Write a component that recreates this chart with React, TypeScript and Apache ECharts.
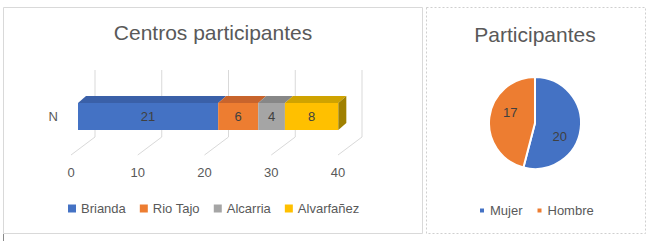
import React, { useEffect, useRef } from "react";
import * as echarts from "echarts";

const categories = ["N"];
const centros = ["Brianda", "Rio Tajo", "Alcarria", "Alvarfañez"];
const centrosValues = [21, 6, 4, 8];
const xTicks = [0, 10, 20, 30, 40];
const sexos = ["Mujer", "Hombre"];
const sexosValues = [20, 17];

const FONT = "'Liberation Sans', Arial, sans-serif";
const TEXT = "#595959";
const LABEL = "#404040";
const frontColors = ["#4472C4", "#ED7D31", "#A5A5A5", "#FFC000"];
const topColors = ["#3A60A8", "#C8642C", "#878787", "#CFA300"];
const sideColors = ["#2F5597", "#A9561F", "#767676", "#A08000"];
const pieColors = ["#4472C4", "#ED7D31"];

// 3D look (pixels)
const DEPTH_X = 8;
const DEPTH_Y = 7;
const HALF_H = 13.5;

export default function App() {
  const ref = useRef<HTMLDivElement>(null);

  useEffect(() => {
    if (!ref.current) return;
    const chart = echarts.init(ref.current, null, { renderer: "svg" });

    let acc = 0;
    const barSeries = centros.map((name, i) => {
      const start = acc;
      acc += centrosValues[i];
      const isLast = i === centros.length - 1;
      return {
        type: "custom",
        name,
        xAxisIndex: 0,
        yAxisIndex: 0,
        z: 3 + i,
        itemStyle: { color: frontColors[i] },
        encode: { x: [0, 1], y: 2 },
        data: [[start, start + centrosValues[i], categories[0], centrosValues[i]]],
        renderItem: (params: any, api: any) => {
          const a = api.coord([api.value(0), 0]);
          const b = api.coord([api.value(1), 0]);
          const x0 = a[0];
          const x1 = b[0];
          const cy = a[1];
          const yT = cy - HALF_H;
          const yB = cy + HALF_H;
          const children: any[] = [
            {
              type: "polygon",
              shape: {
                points: [
                  [x0, yT],
                  [x1, yT],
                  [x1 + DEPTH_X, yT - DEPTH_Y],
                  [x0 + DEPTH_X, yT - DEPTH_Y],
                ],
              },
              style: { fill: topColors[i] },
            },
            {
              type: "rect",
              shape: { x: x0, y: yT, width: x1 - x0, height: yB - yT },
              style: { fill: frontColors[i] },
            },
          ];
          if (isLast) {
            children.push({
              type: "polygon",
              shape: {
                points: [
                  [x1, yT],
                  [x1 + DEPTH_X, yT - DEPTH_Y],
                  [x1 + DEPTH_X, yB - DEPTH_Y],
                  [x1, yB],
                ],
              },
              style: { fill: sideColors[i] },
            });
          }
          children.push({
            type: "text",
            x: (x0 + x1) / 2,
            y: cy,
            style: {
              text: String(api.value(3)),
              align: "center",
              verticalAlign: "middle",
              fontSize: 13,
              fontFamily: FONT,
              fill: LABEL,
            },
          });
          return { type: "group", children };
        },
      };
    });

    const gridSeries = {
      type: "custom",
      name: "grid",
      xAxisIndex: 0,
      yAxisIndex: 0,
      z: 1,
      silent: true,
      encode: { x: 0, y: 1 },
      data: xTicks.map((t) => [t, categories[0]]),
      renderItem: (params: any, api: any) => {
        const p = api.coord([api.value(0), 0]);
        const bx = p[0] + 17;
        const cy = p[1];
        const style = { stroke: "#D9D9D9", lineWidth: 1, fill: "none" };
        return {
          type: "group",
          children: [
            { type: "line", shape: { x1: bx, y1: cy - 46.5, x2: bx, y2: cy + 20.5 }, style },
            { type: "line", shape: { x1: bx, y1: cy + 20.5, x2: p[0] - 7, y2: cy + 38.5 }, style },
          ],
        };
      },
    };

    const option: any = {
      animation: false,
      backgroundColor: "#ffffff",
      textStyle: { fontFamily: FONT },
      title: [
        {
          text: "Centros participantes",
          left: 213,
          top: 22,
          padding: 0,
          textAlign: "center",
          textVerticalAlign: "top",
          textStyle: { fontSize: 21, fontWeight: "normal", color: TEXT, fontFamily: FONT },
        },
        {
          text: "Participantes",
          left: 535,
          top: 24,
          padding: 0,
          textAlign: "center",
          textVerticalAlign: "top",
          textStyle: { fontSize: 21, fontWeight: "normal", color: TEXT, fontFamily: FONT },
        },
      ],
      legend: [
        {
          data: centros,
          left: 68,
          top: 202,
          padding: 0,
          icon: "rect",
          itemWidth: 8,
          itemHeight: 8,
          itemGap: 14,
          textStyle: { fontSize: 13, color: TEXT, fontFamily: FONT },
          selectedMode: false,
        },
        {
          data: sexos,
          left: 478,
          top: 204,
          padding: 0,
          icon: "rect",
          itemWidth: 6,
          itemHeight: 6,
          itemGap: 13,
          textStyle: { fontSize: 13, color: TEXT, fontFamily: FONT },
          selectedMode: false,
        },
      ],
      grid: [{ left: 78, width: 267, top: 97, height: 39, containLabel: false }],
      xAxis: [
        {
          type: "value",
          gridIndex: 0,
          min: 0,
          max: 40,
          interval: 10,
          axisLine: { show: false },
          axisTick: { show: false },
          splitLine: { show: false },
          axisLabel: {
            margin: 30,
            fontSize: 13,
            color: TEXT,
            fontFamily: FONT,
            padding: [0, 14, 0, 0],
          },
        },
      ],
      yAxis: [
        {
          type: "category",
          gridIndex: 0,
          data: categories,
          axisLine: { show: false },
          axisTick: { show: false },
          splitLine: { show: false },
          axisLabel: {
            margin: 20,
            fontSize: 13,
            color: TEXT,
            fontFamily: FONT,
            padding: [11, 0, 0, 0],
          },
        },
      ],
      graphic: [
        {
          type: "rect",
          shape: { x: 3.5, y: 7.5, width: 419, height: 226 },
          style: { fill: "none", stroke: "#D9D9D9", lineWidth: 1 },
          z: 0,
        },
        {
          type: "rect",
          shape: { x: 426.5, y: 7.5, width: 219, height: 226 },
          style: { fill: "none", stroke: "#CFCFCF", lineWidth: 1, lineDash: [2, 2] },
          z: 0,
        },
        {
          type: "line",
          shape: { x1: 3.5, y1: 234, x2: 3.5, y2: 241 },
          style: { stroke: "#8A8A8A", lineWidth: 1 },
          z: 0,
        },
      ],
      series: [
        gridSeries,
        ...barSeries,
        {
          type: "pie",
          name: "Participantes",
          center: [535, 123],
          radius: 46,
          startAngle: 90,
          clockwise: true,
          itemStyle: { borderColor: "#ffffff", borderWidth: 2 },
          label: {
            show: true,
            position: "inside",
            formatter: "{c}",
            fontSize: 13,
            color: LABEL,
            fontFamily: FONT,
          },
          labelLine: { show: false },
          labelLayout: (p: any) =>
            p.dataIndex === 0 ? { dx: -1, dy: 10 } : { dx: 1, dy: -7 },
          data: sexos.map((name, i) => ({
            name,
            value: sexosValues[i],
            itemStyle: { color: pieColors[i] },
          })),
        },
      ],
    };

    chart.setOption(option);
    return () => chart.dispose();
  }, []);

  return (
    <div
      ref={ref}
      style={{ position: "absolute", left: 0, top: 0, width: 656, height: 241, background: "#fff" }}
    />
  );
}
